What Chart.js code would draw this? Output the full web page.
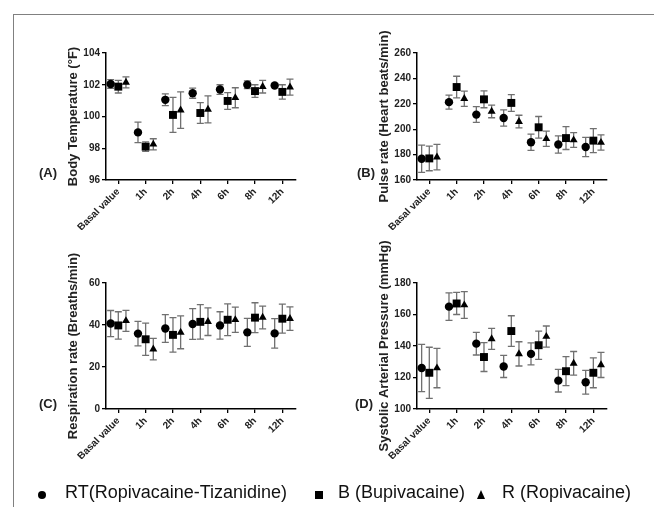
<!DOCTYPE html>
<html><head><meta charset="utf-8">
<script src="https://cdn.jsdelivr.net/npm/chart.js@4.4.0/dist/chart.umd.min.js"></script>
<style>
body{margin:0;background:#fff;width:654px;height:507px;overflow:hidden;position:relative;font-family:"Liberation Sans",Arial,sans-serif;}
canvas{position:absolute;left:0;top:0;}
#frame{position:absolute;left:13px;top:14px;width:700px;height:600px;border-left:1.5px solid #808080;border-top:1.5px solid #808080;}
.plabel{position:absolute;font-weight:bold;font-size:13px;color:#222;}
#legend{position:absolute;top:482px;left:0;width:654px;height:25px;font-size:18px;color:#111;}
#legend span{position:absolute;white-space:nowrap;}
.sym{position:absolute;background:#000;}
</style></head>
<body>
<div id="frame"></div>
<canvas id="cA" width="654" height="507"></canvas>
<canvas id="cB" width="654" height="507"></canvas>
<canvas id="cC" width="654" height="507"></canvas>
<canvas id="cD" width="654" height="507"></canvas>
<div class="plabel" style="left:39px;top:165px">(A)</div>
<div class="plabel" style="left:357px;top:165px">(B)</div>
<div class="plabel" style="left:39px;top:396px">(C)</div>
<div class="plabel" style="left:355px;top:396px">(D)</div>
<div id="legend">
  <div class="sym" style="left:38px;top:9px;width:8px;height:8px;border-radius:50%"></div>
  <span style="left:65px;top:0">RT(Ropivacaine-Tizanidine)</span>
  <div class="sym" style="left:315px;top:9px;width:8px;height:8px"></div>
  <span style="left:338px;top:0">B (Bupivacaine)</span>
  <div class="sym" style="left:477px;top:8px;width:0;height:0;background:none;border-left:4px solid transparent;border-right:4px solid transparent;border-bottom:9px solid #000"></div>
  <span style="left:502px;top:0">R (Ropivacaine)</span>
</div>
<script>
const categories = ['Basal value','1h','2h','4h','6h','8h','12h'];
const seriesNames = ['RT(Ropivacaine-Tizanidine)','B (Bupivacaine)','R (Ropivacaine)'];

// (A) Body temperature (°F)
const tempRT    = [102.05, 99.0, 101.05, 101.47, 101.7, 102.0, 101.95];
const tempRTerr = [0.27, 0.64, 0.37, 0.32, 0.3, 0.25, 0.08];
const tempB     = [101.88, 98.1, 100.1, 100.22, 100.98, 101.6, 101.55];
const tempBerr  = [0.4, 0.3, 1.1, 0.65, 0.53, 0.4, 0.45];
const tempR     = [102.15, 98.25, 100.4, 100.45, 101.18, 101.88, 101.85];
const tempRerr  = [0.35, 0.35, 1.15, 0.85, 0.63, 0.4, 0.5];

// (B) Pulse rate (heart beats/min)
const pulseRT    = [176.7, 221.3, 211.5, 208.8, 189.7, 188, 186];
const pulseRTerr = [10.7, 5.5, 6.2, 6.4, 6.4, 6.8, 7.6];
const pulseB     = [177, 233.2, 223.5, 220.7, 201.5, 193, 191];
const pulseBerr  = [9.7, 8.5, 6.6, 6.6, 8.5, 9, 9.5];
const pulseR     = [178, 224, 214, 206, 192.5, 191.5, 189.5];
const pulseRerr  = [10, 6, 5, 5, 6, 5.8, 6];

// (C) Respiration rate (breaths/min)
const respRT    = [40.7, 35.9, 38.3, 40.5, 39.8, 36.5, 36];
const respRTerr = [6.2, 5.8, 6.6, 7.3, 6.5, 6.7, 7];
const respB     = [39.8, 33.2, 35.3, 41.5, 42.5, 43.5, 43];
const respBerr  = [6.5, 7.7, 8.2, 8.2, 7.6, 7.1, 6.9];
const respR     = [42, 28.5, 36.5, 41.6, 42.5, 43.6, 43];
const respRerr  = [5, 5.1, 7.8, 6.6, 6, 5.4, 5.6];

// (D) Systolic arterial pressure (mmHg)
const sapRT    = [126, 165, 141.5, 127, 135, 118, 117];
const sapRTerr = [15, 8.7, 7.2, 7, 7, 7.2, 7.5];
const sapB     = [123, 167, 133, 149.5, 140.5, 124, 123];
const sapBerr  = [16.2, 7, 9.2, 9.7, 9, 9.2, 9.5];
const sapR     = [126, 166, 144.5, 135, 146, 129, 128];
const sapRerr  = [12.5, 8.5, 6.7, 7.7, 6.7, 7.5, 8];

const offsets = [-0.28, 0, 0.28];
const styles = [
  {pointStyle:'circle', radius:4.2},
  {pointStyle:'rect', radius:5.6},
  {pointStyle:'triangle', radius:4.6}
];
const FONT = '"Liberation Sans", Arial, sans-serif';

const errorBars = {
  id:'errorBars',
  beforeDatasetsDraw(chart){
    const ctx = chart.ctx, ys = chart.scales.y, xs = chart.scales.x;
    ctx.save();
    ctx.strokeStyle = '#707070';
    ctx.lineWidth = 1.3;
    chart.data.datasets.forEach(ds=>{
      ds.data.forEach((p,i)=>{
        const e = ds.errors[i];
        const x = xs.getPixelForValue(p.x);
        const y1 = ys.getPixelForValue(p.y + e), y2 = ys.getPixelForValue(p.y - e);
        ctx.beginPath();
        ctx.moveTo(x, y1); ctx.lineTo(x, y2);
        ctx.moveTo(x-3.5, y1); ctx.lineTo(x+3.5, y1);
        ctx.moveTo(x-3.5, y2); ctx.lineTo(x+3.5, y2);
        ctx.stroke();
      });
    });
    ctx.restore();
  }
};

function makePanel(id, title, vals, errs, ymin, ymax, step, pad){
  const datasets = vals.map((v,s)=>({
    label: seriesNames[s],
    data: v.map((y,i)=>({x:i+offsets[s], y})),
    errors: errs[s],
    pointStyle: styles[s].pointStyle,
    pointRadius: styles[s].radius,
    pointBackgroundColor:'#000',
    pointBorderColor:'#000',
    pointBorderWidth:0,
    showLine:false
  }));
  new Chart(document.getElementById(id), {
    type:'scatter',
    data:{datasets},
    options:{
      responsive:false, animation:false,
      layout:{padding:pad},
      plugins:{legend:{display:false}, tooltip:{enabled:false}},
      scales:{
        x:{
          type:'linear', min:-0.45, max:6.5,
          afterBuildTicks(sc){ sc.ticks = categories.map((c,i)=>({value:i})); },
          afterFit(sc){ sc.height = 50; },
          ticks:{callback:(v)=>categories[v], minRotation:45, maxRotation:45, autoSkip:false,
                 color:'#222', font:{family:FONT, size:10, weight:'bold'}, padding:2},
          grid:{display:true, drawOnChartArea:false, drawTicks:true, tickLength:4, color:'#000', lineWidth:1.3},
          border:{display:true, color:'#000', width:1.5}
        },
        y:{
          min:ymin, max:ymax,
          afterFit(sc){ sc.width = 43; },
          ticks:{stepSize:step, color:'#222', font:{family:FONT, size:10, weight:'bold'}, padding:2},
          grid:{display:true, drawOnChartArea:false, drawTicks:true, tickLength:4, color:'#000', lineWidth:1.3},
          border:{display:true, color:'#000', width:1.5},
          title:{display:true, text:title, color:'#222', font:{family:FONT, size:13, weight:'bold'}, padding:{top:3,bottom:2}}
        }
      }
    },
    plugins:[errorBars]
  });
}

makePanel('cA','Body Temperature (°F)', [tempRT,tempB,tempR],[tempRTerr,tempBerr,tempRerr], 96,104,2,
  {left:63, right:358, top:53, bottom:277});
makePanel('cB','Pulse rate (Heart beats/min)', [pulseRT,pulseB,pulseR],[pulseRTerr,pulseBerr,pulseRerr], 160,260,20,
  {left:374, right:47, top:53, bottom:277});
makePanel('cC','Respiration rate (Breaths/min)', [respRT,respB,respR],[respRTerr,respBerr,respRerr], 0,60,20,
  {left:63, right:358, top:283, bottom:48});
makePanel('cD','Systolic Arterial Pressure (mmHg)', [sapRT,sapB,sapR],[sapRTerr,sapBerr,sapRerr], 100,180,20,
  {left:374, right:47, top:283, bottom:48});
</script>
</body></html>
